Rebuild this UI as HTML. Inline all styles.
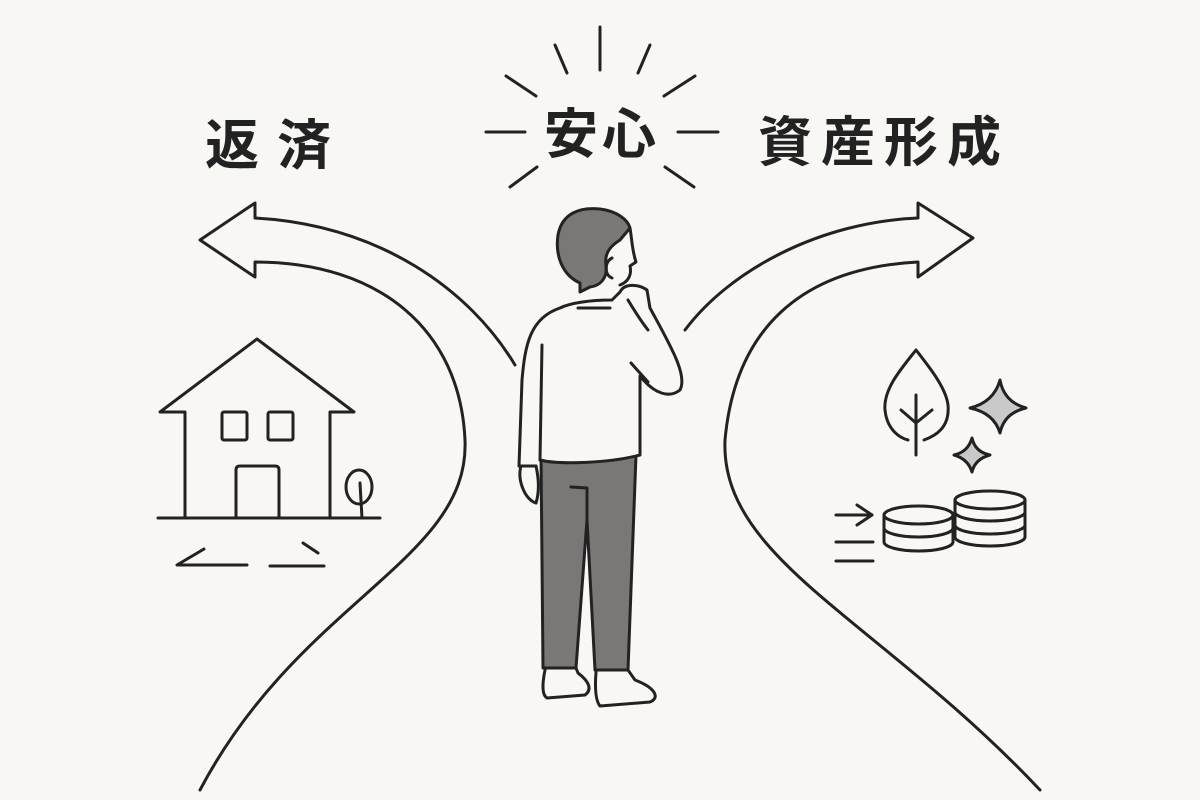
<!DOCTYPE html>
<html><head><meta charset="utf-8"><style>
html,body{margin:0;padding:0;background:#f8f7f4;}
svg{display:block}
text{font-family:"Liberation Sans","Noto Sans CJK JP",sans-serif;fill:#222;font-weight:bold;}
</style></head><body>
<svg width="1200" height="800" viewBox="0 0 1200 800" xmlns="http://www.w3.org/2000/svg">
<rect width="1200" height="800" fill="#f8f7f4"/>
<g stroke="#222" stroke-width="3" fill="none" stroke-linecap="round" stroke-linejoin="round">
<line x1="600" y1="27" x2="600" y2="70"/>
<line x1="555" y1="45" x2="567" y2="73"/>
<line x1="650" y1="45" x2="638" y2="73"/>
<line x1="506" y1="76" x2="536" y2="96"/>
<line x1="695" y1="76" x2="664" y2="96"/>
<line x1="510" y1="187" x2="537" y2="167"/>
<line x1="694" y1="187" x2="665" y2="167"/>
<line x1="486" y1="132" x2="525" y2="132"/>
<line x1="678" y1="132" x2="718" y2="132"/>
<path d="M515 365 C470 290 380 225 255 218 L255 203 L200 240 L255 277 L255 262 C380 262 460 330 465 440 C470 560 300 600 200 790"/>
<path d="M685 330 C730 270 820 222 918 218 L918 203 L973 238 L918 277 L918 262 C800 268 735 330 725 440 C720 560 880 620 1040 790"/>
<path d="M185 518 L185 412 L160 412 L257 339 L354 412 L330 412 L330 518"/>
<rect x="222" y="412" width="25" height="28" rx="2"/>
<rect x="268" y="412" width="25" height="28" rx="2"/>
<path d="M236 518 L236 470 Q236 466 240 466 L275 466 Q279 466 279 470 L279 518"/>
<line x1="158" y1="518" x2="380" y2="518"/>
<ellipse cx="359" cy="487" rx="13" ry="17"/>
<line x1="360" y1="483" x2="362" y2="518"/>
<path d="M204 549 L177 565 L247 565"/>
<line x1="303" y1="543" x2="318" y2="553"/>
<line x1="270" y1="566" x2="324" y2="566"/>
<path d="M916 350 C900 370 883 390 885 410 C887 430 900 438 908 440 M924 440 C935 436 950 428 948 405 C946 388 930 368 916 350"/>
<line x1="916" y1="395" x2="916" y2="455"/>
<line x1="901" y1="410" x2="916" y2="423"/>
<line x1="932" y1="410" x2="916" y2="423"/>
<path d="M1000 380 Q1004 402 1026 408 Q1004 413 1000 433 Q994 413 970 408 Q994 402 1000 380Z" fill="#c9c9c9"/>
<path d="M972 438 Q975 452 990 455 Q975 459 972 472 Q968 459 954 455 Q968 452 972 438Z" fill="#c9c9c9"/>
<g fill="#f8f7f4">
<path d="M884 515 L884 542 A34.5 9 0 0 0 953 542 L953 515"/>
<ellipse cx="918.5" cy="515" rx="34.5" ry="9"/>
<path d="M884 528 A34.5 9 0 0 0 953 528" fill="none"/>
<path d="M955 500 L955 537 A35 9 0 0 0 1025 537 L1025 500"/>
<ellipse cx="990" cy="500" rx="35" ry="9"/>
<path d="M955 512 A35 9 0 0 0 1025 512" fill="none"/>
<path d="M955 525 A35 9 0 0 0 1025 525" fill="none"/>
</g>
<line x1="836" y1="515" x2="872" y2="515"/>
<path d="M857 505 L872 515 L857 525"/>
<line x1="836" y1="542" x2="873" y2="542"/>
<line x1="836" y1="561" x2="873" y2="561"/>
<path d="M541 455 L543 668 L576 668 L587 520 L595 670 L628 670 L636 455 Z" fill="#7a7776"/>
<path d="M571 487 L587 488 L587 520"/>
<path d="M545 670 C542 685 542 695 547 698 L585 695 C592 690 590 682 578 673 L576 668"/>
<path d="M596 672 C595 685 595 700 600 706 L650 702 C660 698 656 688 635 680 L628 670"/>
<path d="M540 460 C560 465 610 463 640 455 L640 376 C655 395 670 398 680 390 C688 375 670 345 650 308 L647 290 C640 285 625 282 620 292 L612 300 C590 300 570 303 560 308 C530 318 525 345 522 380 L519 466 L536 466" fill="#f8f7f4"/>
<line x1="542" y1="345" x2="540" y2="460"/>
<line x1="631" y1="363" x2="648" y2="382"/>
<line x1="578" y1="308" x2="610" y2="308"/>
<path d="M521 466 C517 480 525 500 536 503 C540 490 538 475 536 466"/>
<path d="M628 300 C634 310 640 320 648 330"/>
<path d="M580 292 L580 283 C562 275 555 255 558 235 C562 213 580 207 600 209 C617 211 628 220 630 228 L620 240 C612 245 604 252 606 265 C608 278 600 286 590 287 Z" fill="#7a7776"/>
<path d="M630 228 C632 240 632 250 636 262 L630 266 C632 275 628 282 620 285"/>
<path d="M612 258 C604 262 604 275 612 278"/>
</g>
<text x="205" y="164" font-size="54" letter-spacing="18">返済</text>
<text x="544" y="153" font-size="54" letter-spacing="4">安心</text>
<text x="758" y="161" font-size="54" letter-spacing="9">資産形成</text>
</svg>
</body></html>
